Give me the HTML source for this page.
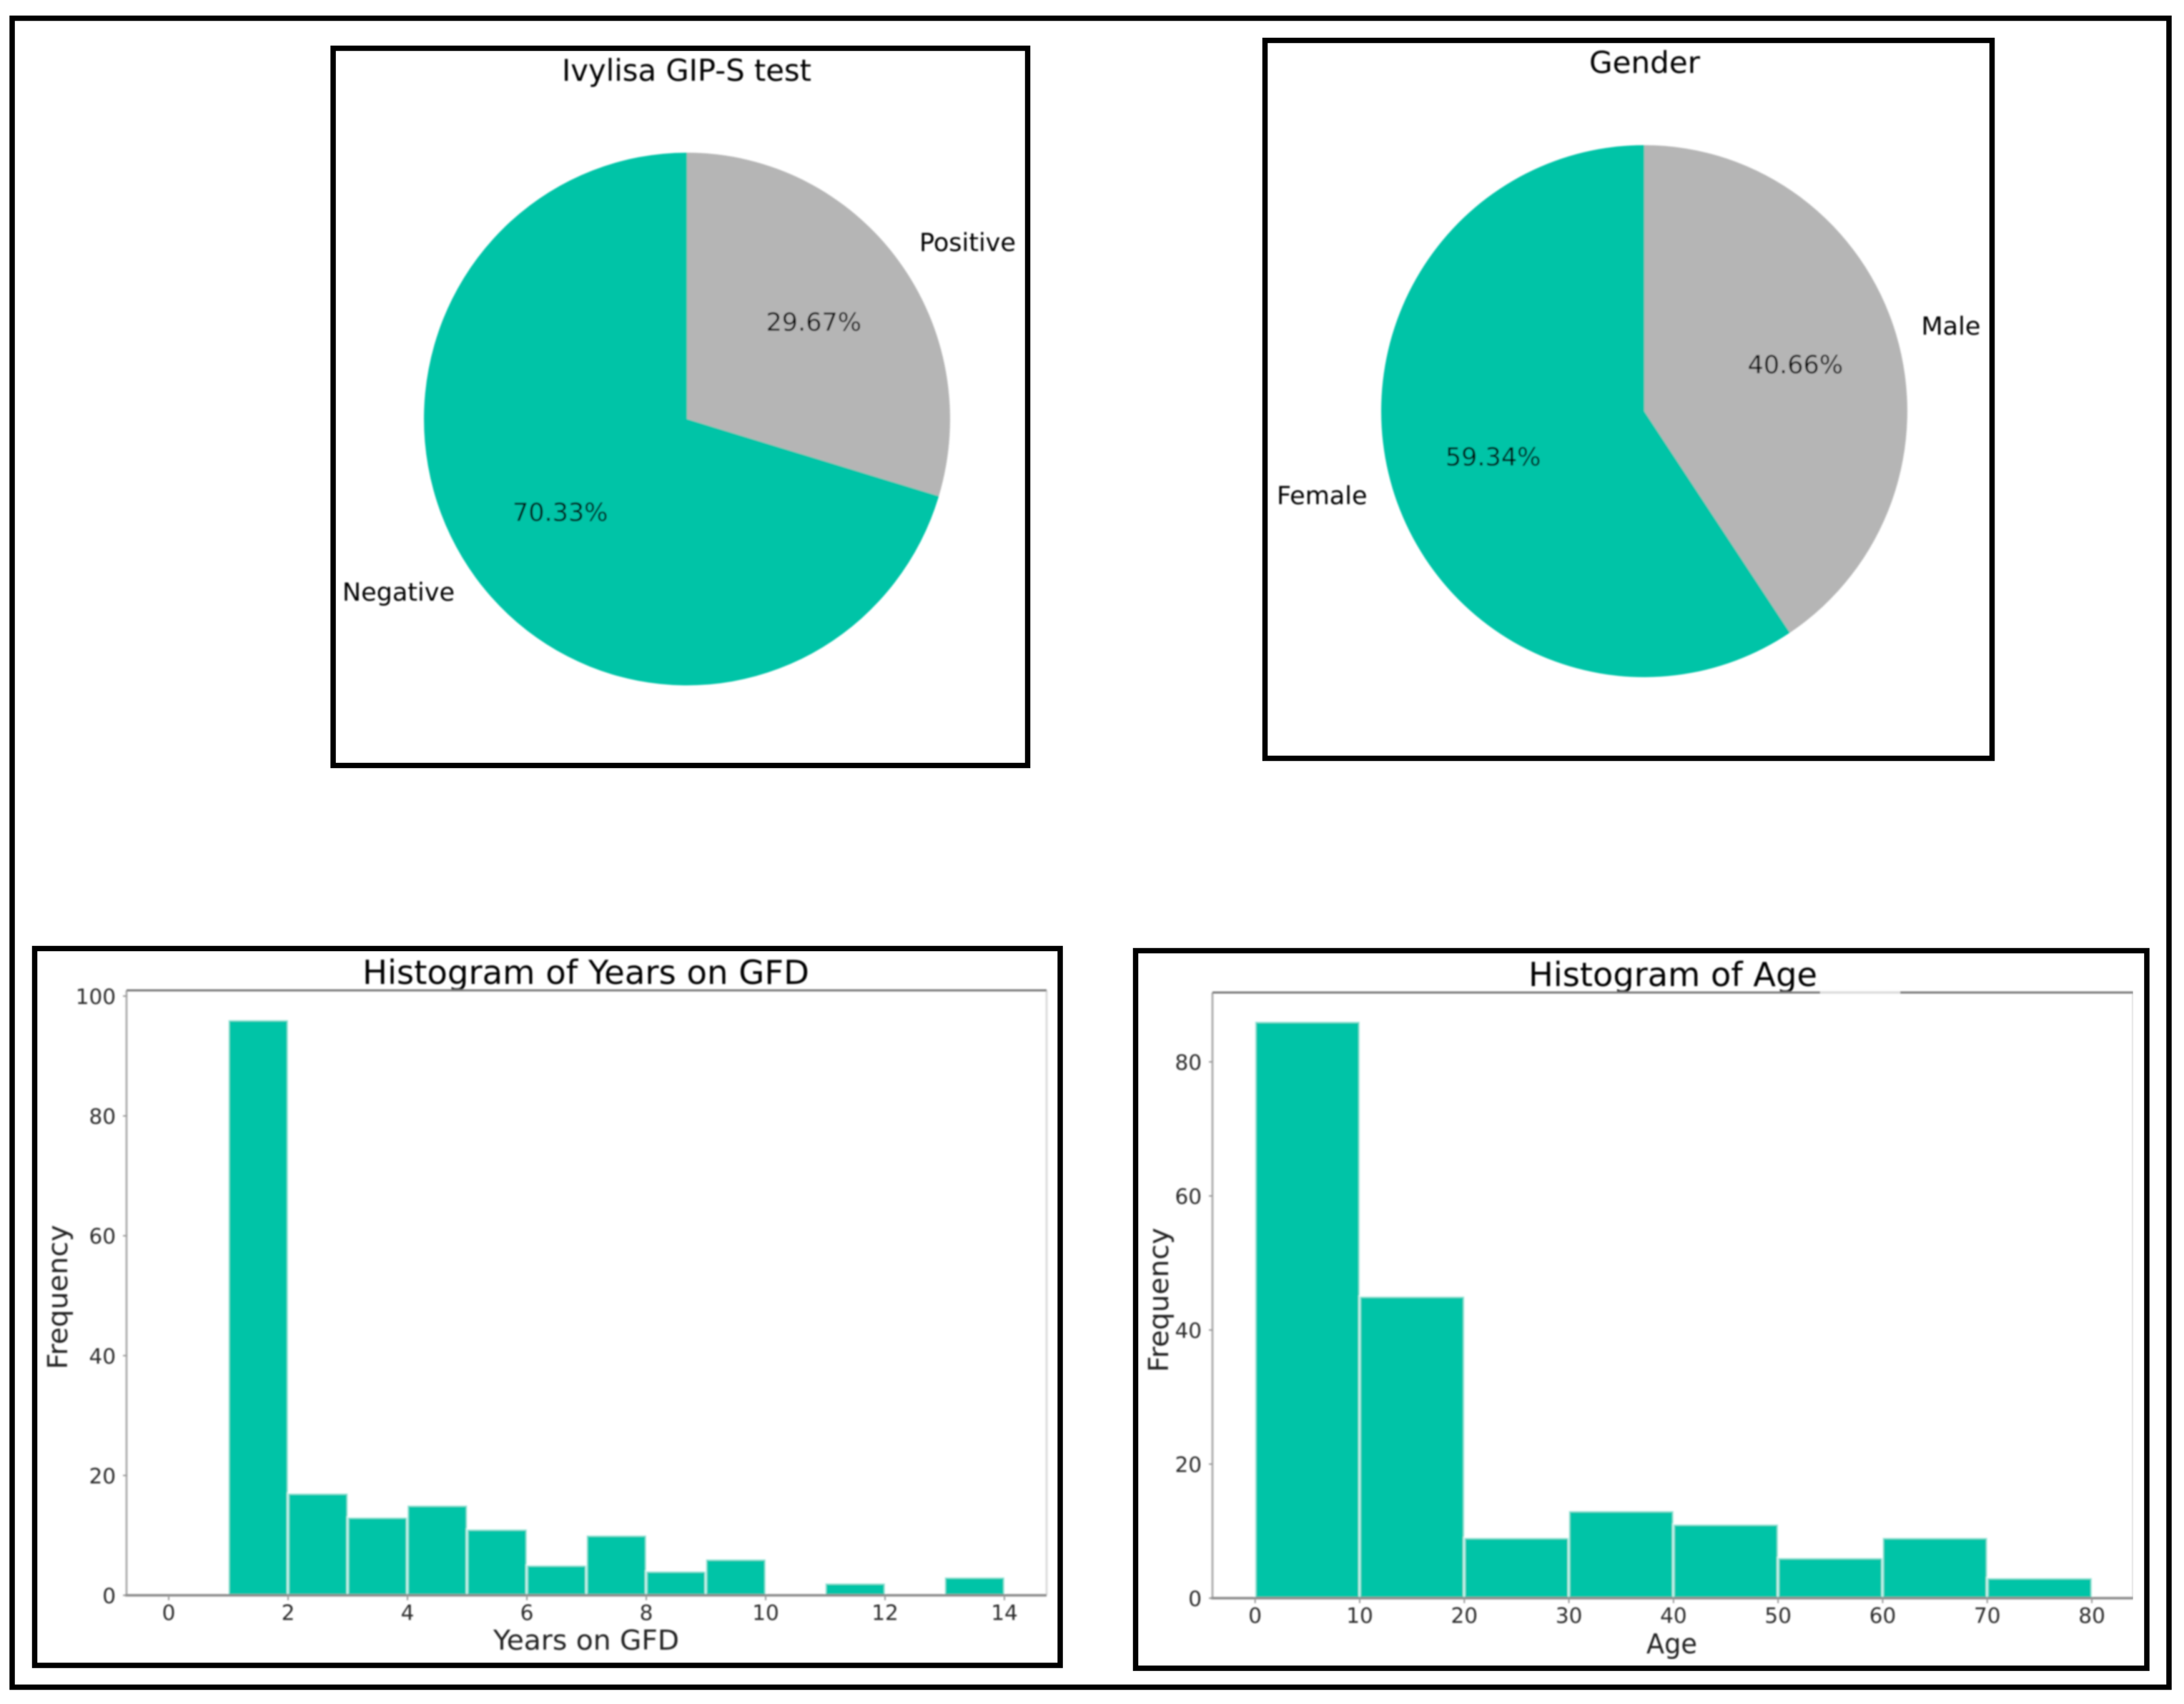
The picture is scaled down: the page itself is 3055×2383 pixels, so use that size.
<!DOCTYPE html>
<html lang="en">
<head>
<meta charset="utf-8">
<title>Ivylisa GIP-S test, gender, years on GFD and age</title>
<style>
html,body{margin:0;padding:0;background:#fff}
svg{display:block}
text{font-family:"DejaVu Sans","Liberation Sans",sans-serif}
</style>
</head>
<body>
<svg id="figure" xmlns="http://www.w3.org/2000/svg" width="3055" height="2383" viewBox="0 0 3055 2383">
  <defs><filter id="soft" x="0" y="0" width="100%" height="100%" filterUnits="objectBoundingBox"><feGaussianBlur stdDeviation="1.1"/></filter></defs>
  <rect x="0" y="0" width="3055" height="2383" fill="#fff"/>
  <rect x="17" y="25.5" width="3017" height="2334" fill="none" stroke="#000" stroke-width="7.5"/>
  <rect x="466" y="67.5" width="971.5" height="1003" fill="none" stroke="#000" stroke-width="7.5"/>
  <rect x="1769.5" y="56.5" width="1017" height="1004" fill="none" stroke="#000" stroke-width="7.5"/>
  <rect x="48.5" y="1326.5" width="1434.5" height="1002.5" fill="none" stroke="#000" stroke-width="7.5"/>
  <rect x="1588.5" y="1329.5" width="1414.5" height="1003.5" fill="none" stroke="#000" stroke-width="7.5"/>
  <g id="charts" filter="url(#soft)">
    <text x="786" y="113" font-size="41.5" fill="#000" textLength="349" lengthAdjust="spacingAndGlyphs">Ivylisa GIP-S test</text>
    <text x="2223" y="102" font-size="41.5" fill="#000" textLength="155" lengthAdjust="spacingAndGlyphs">Gender</text>
    <text x="507" y="1376" font-size="46" fill="#000" textLength="625" lengthAdjust="spacingAndGlyphs">Histogram of Years on GFD</text>
    <text x="690" y="2307" font-size="38" fill="#222" textLength="260" lengthAdjust="spacingAndGlyphs">Years on GFD</text>
    <text transform="translate(94,1915) rotate(-90)" x="0" y="0" font-size="38" fill="#222" textLength="202" lengthAdjust="spacingAndGlyphs">Frequency</text>
    <text x="2138" y="1379" font-size="46" fill="#000" textLength="404" lengthAdjust="spacingAndGlyphs">Histogram of Age</text>
    <text x="2303" y="2312" font-size="38" fill="#222" textLength="71" lengthAdjust="spacingAndGlyphs">Age</text>
    <text transform="translate(1634,1919) rotate(-90)" x="0" y="0" font-size="38" fill="#222" textLength="202" lengthAdjust="spacingAndGlyphs">Frequency</text>
  </g>
</svg>
<script>
var testLabels = ['Positive', 'Negative'];
var testValues = [29.67, 70.33];
var genderLabels = ['Male', 'Female'];
var genderValues = [40.66, 59.34];
var yearBins = [0, 1, 2, 3, 4, 5, 6, 7, 8, 9, 10, 11, 12, 13];
var yearCounts = [0, 96, 17, 13, 15, 11, 5, 10, 4, 6, 0, 2, 0, 3];
var yearXTicks = [0, 2, 4, 6, 8, 10, 12, 14];
var yearYTicks = [0, 20, 40, 60, 80, 100];
var ageBins = [0, 10, 20, 30, 40, 50, 60, 70];
var ageCounts = [86, 45, 9, 13, 11, 6, 9, 3];
var ageXTicks = [0, 10, 20, 30, 40, 50, 60, 70, 80];
var ageYTicks = [0, 20, 40, 60, 80];

var NS = 'http://www.w3.org/2000/svg';
var charts = document.getElementById('charts');
var TEAL = '#00c4a7';
var GRAY = '#b5b5b5';

function make(tag, attrs, text) {
  var el = document.createElementNS(NS, tag);
  for (var k in attrs) el.setAttribute(k, attrs[k]);
  if (text !== undefined) el.textContent = text;
  charts.appendChild(el);
  return el;
}

function drawPie(cx, cy, rx, ry, labels, values, prefix, textDy) {
  var total = values.reduce(function (a, b) { return a + b; }, 0);
  function px(turn, f) { return cx + Math.sin(turn * 2 * Math.PI) * rx * f; }
  function py(turn, f) { return cy - Math.cos(turn * 2 * Math.PI) * ry * f; }
  var start = 0;
  values.forEach(function (value, i) {
    var frac = value / total;
    var end = start + frac;
    var slice = make('path', {
      d: 'M' + cx + ' ' + cy + ' L' + px(start, 1) + ' ' + py(start, 1) +
         ' A' + rx + ' ' + ry + ' 0 ' + (frac > 0.5 ? 1 : 0) + ' 1 ' + px(end, 1) + ' ' + py(end, 1) + ' Z',
      fill: i === 0 ? GRAY : TEAL
    });
    
    
    start = end;
  });
  start = 0;
  values.forEach(function (value, i) {
    var frac = value / total;
    var mid = start + frac / 2;
    var pct = make('text', {
      x: px(mid, 0.6), y: py(mid, 0.6) + textDy, 'font-size': 35, fill: '#000', 'text-anchor': 'middle'
    }, value.toFixed(2) + '%');
    
    
    var lab = make('text', {
      x: px(mid, 1.1), y: py(mid, 1.1) + textDy, 'font-size': 35, fill: '#000',
      'text-anchor': mid < 0.5 ? 'start' : 'end'
    }, labels[i]);
    
    
    start += frac;
  });
}

function axisLine(x1, y1, x2, y2, color, width, name) {
  var ln = make('line', { x1: x1, y1: y1, x2: x2, y2: y2, stroke: color, 'stroke-width': width });
  
  
}

function drawHistogram(o, bins, counts, binWidth, xTicks, yTicks, prefix) {
  function X(v) { return o.x0 + v * o.xk; }
  function Y(v) { return o.y0 - v * o.yk; }
  bins.forEach(function (b, i) {
    var bar = make('rect', {
      x: X(b), y: Y(counts[i]), width: X(b + binWidth) - X(b), height: Y(0) - Y(counts[i]),
      fill: TEAL, stroke: 'rgba(255,255,255,0.6)', 'stroke-width': 3.5
    });
    
    
  });
  axisLine(o.left, o.top, o.left, o.y0, '#b0b0b0', 3, prefix + '-left-spine');
  axisLine(o.right, o.top, o.right, o.y0, '#dcdcdc', 3, prefix + '-right-spine');
  axisLine(o.left, o.top, o.right, o.top, '#7a7a7a', 3, prefix + '-top-spine');
  axisLine(o.left - 2, o.y0, o.right, o.y0, '#8c8c8c', 3.5, prefix + '-bottom-spine');
  xTicks.forEach(function (t) {
    axisLine(X(t), o.y0, X(t), o.y0 + 7, '#999', 2, prefix + '-x-tick-' + t);
    var lb = make('text', { x: X(t), y: o.y0 + 34.5, 'font-size': 29.5, fill: '#2a2a2a', 'text-anchor': 'middle' }, String(t));
    
    
  });
  yTicks.forEach(function (t) {
    axisLine(o.left - 5, Y(t), o.left, Y(t), '#999', 2, prefix + '-y-tick-' + t);
    var lb = make('text', { x: o.left - 15, y: Y(t) + 11, 'font-size': 29.5, fill: '#2a2a2a', 'text-anchor': 'end' }, String(t));
    
    
  });
}

drawPie(961, 586, 368, 372.5, testLabels, testValues, 'test-pie', 9.5);
drawPie(2300, 575, 368, 372, genderLabels, genderValues, 'gender-pie', 11.5);
drawHistogram({ x0: 236, xk: 83.5, y0: 2231, yk: 8.38, left: 177, right: 1464, top: 1385 },
  yearBins, yearCounts, 1, yearXTicks, yearYTicks, 'years-histogram');
drawHistogram({ x0: 1755.7, xk: 14.63, y0: 2235, yk: 9.375, left: 1696, right: 2984, top: 1388 },
  ageBins, ageCounts, 10, ageXTicks, ageYTicks, 'age-histogram');
axisLine(2546, 1388, 2658, 1388, '#dddddd', 3.5, 'age-histogram-top-spine-faded-segment');
</script>
</body>
</html>
